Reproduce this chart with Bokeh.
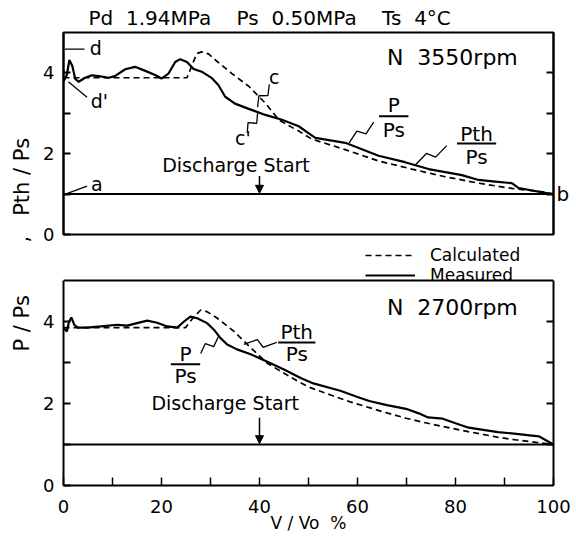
import math
from bokeh.plotting import figure
from bokeh.layouts import column
from bokeh.models import (Range1d, LinearAxis, FixedTicker, Label, Arrow, NormalHead,
                          Legend, LegendItem, Title, Span)
from bokeh.embed import file_html
from bokeh.resources import INLINE

FONT = "DejaVu Sans"
NB = "\u00a0"

# ---------------- data ----------------
title_text = "Pd  1.94MPa    Ps  0.50MPa    Ts  4°C"
x_label = "V / Vo  %"
x_ticks = [0, 20, 40, 60, 80, 100]
x_minor_ticks = [10, 30, 50, 70, 90]
y_ticks = [0, 2, 4]
y_minor_ticks = [1, 3]
right_ticks = [1, 2, 3, 4]
y_min, y_max = 0, 5

suction_x = [0, 100]
suction_y = [1.0, 1.0]
discharge_start = 40

# N = 3550 rpm
x_meas_3550 = [0, 0.7, 1.2, 1.8, 2.4, 3.1, 4.4, 5.8, 7.2, 9.2, 10.5, 12.6, 14.6, 16.7, 18.7,
               20.0, 21.4, 22.8, 23.8, 25.2, 26.5, 28.2, 30.3, 31.6, 33.0, 35.0, 37.8, 41.2,
               44.6, 48.0, 50.0, 51.4, 57.5, 60.9, 64.3, 69.7, 74.5, 81.3, 84.7, 88.1, 91.5,
               92.9, 99.1, 100]
y_meas_3550 = [3.78, 3.96, 4.32, 4.17, 3.85, 3.78, 3.88, 3.94, 3.92, 3.88, 3.92, 4.09, 4.15,
               4.05, 3.95, 3.86, 3.98, 4.27, 4.34, 4.27, 4.10, 4.03, 3.87, 3.70, 3.41, 3.24,
               3.11, 2.96, 2.84, 2.68, 2.51, 2.39, 2.27, 2.11, 1.95, 1.79, 1.62, 1.47, 1.35,
               1.31, 1.27, 1.15, 1.01, 1.0]
x_calc_3550 = [0, 25.2, 27.2, 28.2, 29.6, 31.0, 34.3, 37.8, 41.2, 44.0, 48.0, 50.7, 57.5,
               64.3, 71.1, 77.9, 84.7, 91.5, 98.3, 100]
y_calc_3550 = [3.88, 3.88, 4.48, 4.52, 4.47, 4.32, 3.99, 3.67, 3.25, 2.83, 2.56, 2.36, 2.10,
               1.82, 1.62, 1.43, 1.27, 1.14, 1.05, 1.0]

# N = 2700 rpm
x_meas_2700 = [0, 0.7, 1.1, 1.6, 2.2, 2.9, 4.8, 7.6, 11.0, 13.0, 15.0, 17.1, 19.1, 21.2, 23.2,
               24.6, 25.9, 27.3, 29.3, 30.7, 32.0, 33.4, 35.4, 38.2, 41.6, 45.0, 48.4, 51.0,
               56.5, 60.0, 62.4, 66.0, 69.9, 72.5, 74.4, 77.4, 80.0, 82.7, 86.0, 88.7, 91.5,
               94.7, 97.0, 100]
y_meas_2700 = [3.84, 3.76, 3.98, 4.10, 3.92, 3.85, 3.85, 3.88, 3.92, 3.90, 3.96, 4.02, 3.97,
               3.88, 3.85, 4.00, 4.12, 4.08, 3.96, 3.80, 3.60, 3.44, 3.32, 3.20, 3.02, 2.83,
               2.62, 2.49, 2.31, 2.16, 2.06, 1.96, 1.87, 1.76, 1.66, 1.63, 1.52, 1.41, 1.35,
               1.30, 1.27, 1.23, 1.20, 1.0]
x_calc_2700 = [0, 24.9, 26.5, 28.0, 29.3, 31.4, 34.8, 38.2, 41.6, 45.0, 47.7, 50.5, 54.7, 58.5,
               62.4, 66.0, 69.9, 73.5, 77.4, 81.0, 85.0, 88.5, 92.5, 96.5, 100]
y_calc_2700 = [3.85, 3.85, 4.10, 4.28, 4.24, 4.08, 3.76, 3.36, 2.98, 2.74, 2.55, 2.38, 2.20,
               2.04, 1.90, 1.77, 1.64, 1.54, 1.44, 1.35, 1.26, 1.18, 1.11, 1.05, 1.0]

FRAME_W = 490


def nb(s):
    return s.replace(" ", NB)


def base_panel(height, top, bottom, y_end, right_labels, outline):
    p = figure(width=576, height=height, x_range=Range1d(0, 100),
               y_range=Range1d(y_min, y_end),
               x_axis_type=None, y_axis_type=None, output_backend="svg",
               toolbar_location=None, min_border_left=63, min_border_right=23,
               min_border_top=top, min_border_bottom=bottom)
    p.outline_line_color = "black" if outline else None
    p.outline_line_width = 2
    p.background_fill_color = "white"
    p.border_fill_color = "white"
    yl = LinearAxis(ticker=FixedTicker(ticks=y_ticks, minor_ticks=y_minor_ticks),
                    bounds=(y_min, y_max),
                    major_tick_in=7, major_tick_out=0, minor_tick_in=7, minor_tick_out=0,
                    axis_line_width=2, major_tick_line_width=2, minor_tick_line_width=2,
                    major_label_text_font=FONT, major_label_text_font_size="18px",
                    major_label_text_color="black", major_label_standoff=9)
    p.add_layout(yl, "left")
    if right_labels:
        rt = FixedTicker(ticks=[1], minor_ticks=[2, 3, 4])
    else:
        rt = FixedTicker(ticks=[], minor_ticks=right_ticks)
    yr = LinearAxis(ticker=rt, major_label_overrides={1: "b"}, bounds=(y_min, y_max),
                    major_tick_in=7, major_tick_out=0, minor_tick_in=7, minor_tick_out=0,
                    axis_line_width=2, major_tick_line_width=2, minor_tick_line_width=2,
                    major_label_text_font=FONT, major_label_text_font_size="20px",
                    major_label_text_color="black", major_label_standoff=3)
    p.add_layout(yr, "right")
    return p


def lbl(p, x, y, text, size="19px", align="center", angle=0.0):
    p.add_layout(Label(x=x, y=y, text=nb(text), text_font=FONT, text_font_size=size,
                       text_align=align, text_baseline="middle", angle=angle,
                       text_color="black"))


def zigzag(p, x0, y0, x1, y1, ky, kx=FRAME_W / 100.0):
    dx = (x1 - x0) * kx
    dy = (y1 - y0) * ky
    L = math.hypot(dx, dy)
    ux, uy = dx / L, dy / L
    nx, ny = -uy, ux
    pts = [(0, 0), (0.42 * L * ux + 4 * nx, 0.42 * L * uy + 4 * ny),
           (0.58 * L * ux - 4 * nx, 0.58 * L * uy - 4 * ny), (dx, dy)]
    xs = [x0 + a / kx for a, b in pts]
    ys = [y0 + b / ky for a, b in pts]
    p.line(xs, ys, line_color="black", line_width=1.3)


def frac(p, xc, y_num, y_bar, y_den, num, den, hw):
    lbl(p, xc, y_num, num, size="20px")
    lbl(p, xc, y_den, den, size="20px")
    p.segment(x0=[xc - hw], y0=[y_bar], x1=[xc + hw], y1=[y_bar], line_color="black",
              line_width=2)


def curves(p, xm, ym, xc, yc):
    rc = p.line(xc, yc, line_color="black", line_width=1.7, line_dash="6 4")
    rm = p.line(xm, ym, line_color="black", line_width=2.2)
    p.line(suction_x, suction_y, line_color="black", line_width=2)
    return rc, rm


def side_title(p, text, offset, size="21px"):
    p.add_layout(Title(text=nb(text), align="left", offset=offset, text_font=FONT,
                       text_font_size=size, text_font_style="normal", text_color="black",
                       standoff=14), "left")


# ---------------- top panel (3550 rpm) ----------------
KY_TOP = 202 / 5.0
top = base_panel(245, 32, 11, y_max, True, True)
top.title = Title(text=nb(title_text), align="left", offset=25, text_font=FONT,
                  text_font_size="20px", text_font_style="normal", text_color="black",
                  vertical_align="top", standoff=2, text_line_height=1.0)
side_title(top, ",   Pth / Ps", -8)
curves(top, x_meas_3550, y_meas_3550, x_calc_3550, y_calc_3550)
top.add_layout(Arrow(end=NormalHead(size=8, fill_color="black", line_color="black"),
                     x_start=discharge_start, y_start=1.45, x_end=discharge_start, y_end=1.02,
                     line_width=1.5, line_color="black"))
lbl(top, 35.2, 1.72, "Discharge Start")
lbl(top, 66.0, 4.38, "N  3550rpm", size="22px", align="left")
lbl(top, 6.6, 4.62, "d", size="19px")
top.line([0.3, 4.3], [4.59, 4.59], line_color="black", line_width=1.3)
lbl(top, 7.3, 3.31, "d'", size="19px")
top.line([1.0, 4.8], [3.78, 3.40], line_color="black", line_width=1.3)
lbl(top, 6.8, 1.24, "a", size="19px")
top.line([0.4, 4.8], [1.0, 1.2], line_color="black", line_width=1.3)
lbl(top, 43.0, 3.9, "c", size="19px")
zigzag(top, 42.0, 3.72, 39.6, 3.15, KY_TOP)
lbl(top, 36.6, 2.40, "c'", size="19px")
zigzag(top, 37.5, 2.52, 39.6, 3.0, KY_TOP)
frac(top, 67.4, 3.2, 2.93, 2.58, "P", "Ps", 3.0)
zigzag(top, 63.3, 2.78, 58.3, 2.27, KY_TOP)
frac(top, 84.3, 2.5, 2.25, 1.93, "Pth", "Ps", 4.0)
zigzag(top, 78.2, 2.2, 71.8, 1.72, KY_TOP)

# ---------------- bottom panel (2700 rpm) ----------------
# frame extends above y=5 so that the legend sits between the two panels
KY_BOT = 205 / 5.0
bot = base_panel(292, 0, 52, y_max + 35 / KY_BOT, False, False)
bot.add_layout(Span(location=y_max, dimension="width", line_color="black", line_width=2))
rc, rm = curves(bot, x_meas_2700, y_meas_2700, x_calc_2700, y_calc_2700)
xa = LinearAxis(ticker=FixedTicker(ticks=x_ticks, minor_ticks=x_minor_ticks),
                major_tick_in=8, major_tick_out=0, minor_tick_in=8, minor_tick_out=0,
                axis_line_width=2, major_tick_line_width=1.5, minor_tick_line_width=1.5,
                major_label_text_font=FONT, major_label_text_font_size="18px",
                major_label_text_color="black", major_label_standoff=14,
                axis_label=nb(x_label), axis_label_text_font=FONT,
                axis_label_text_font_size="17px", axis_label_text_font_style="normal",
                axis_label_text_color="black", axis_label_standoff=-3)
bot.add_layout(xa, "below")
side_title(bot, "P / Ps", 134)
bot.add_layout(Arrow(end=NormalHead(size=8, fill_color="black", line_color="black"),
                     x_start=discharge_start, y_start=1.65, x_end=discharge_start, y_end=1.02,
                     line_width=1.5, line_color="black"))
lbl(bot, 33.0, 2.02, "Discharge Start")
lbl(bot, 66.0, 4.33, "N  2700rpm", size="22px", align="left")
frac(bot, 24.9, 3.2, 2.96, 2.67, "P", "Ps", 3.0)
zigzag(bot, 28.0, 3.22, 31.6, 3.63, KY_BOT)
frac(bot, 47.6, 3.75, 3.49, 3.2, "Pth", "Ps", 3.8)
zigzag(bot, 43.5, 3.49, 36.8, 3.44, KY_BOT)

legend = Legend(items=[LegendItem(label="Calculated", renderers=[rc]),
                       LegendItem(label="Measured", renderers=[rm])],
                location="top_right", padding=0, margin=0, spacing=0,
                glyph_width=50, glyph_height=18, label_height=18, label_standoff=15,
                label_width=123,
                label_text_font=FONT, label_text_font_size="17px",
                label_text_color="black",
                border_line_alpha=0, background_fill_alpha=0)
bot.add_layout(legend)

layout = column(top, bot, spacing=0)
open("out.html", "w").write(file_html(layout, INLINE))
